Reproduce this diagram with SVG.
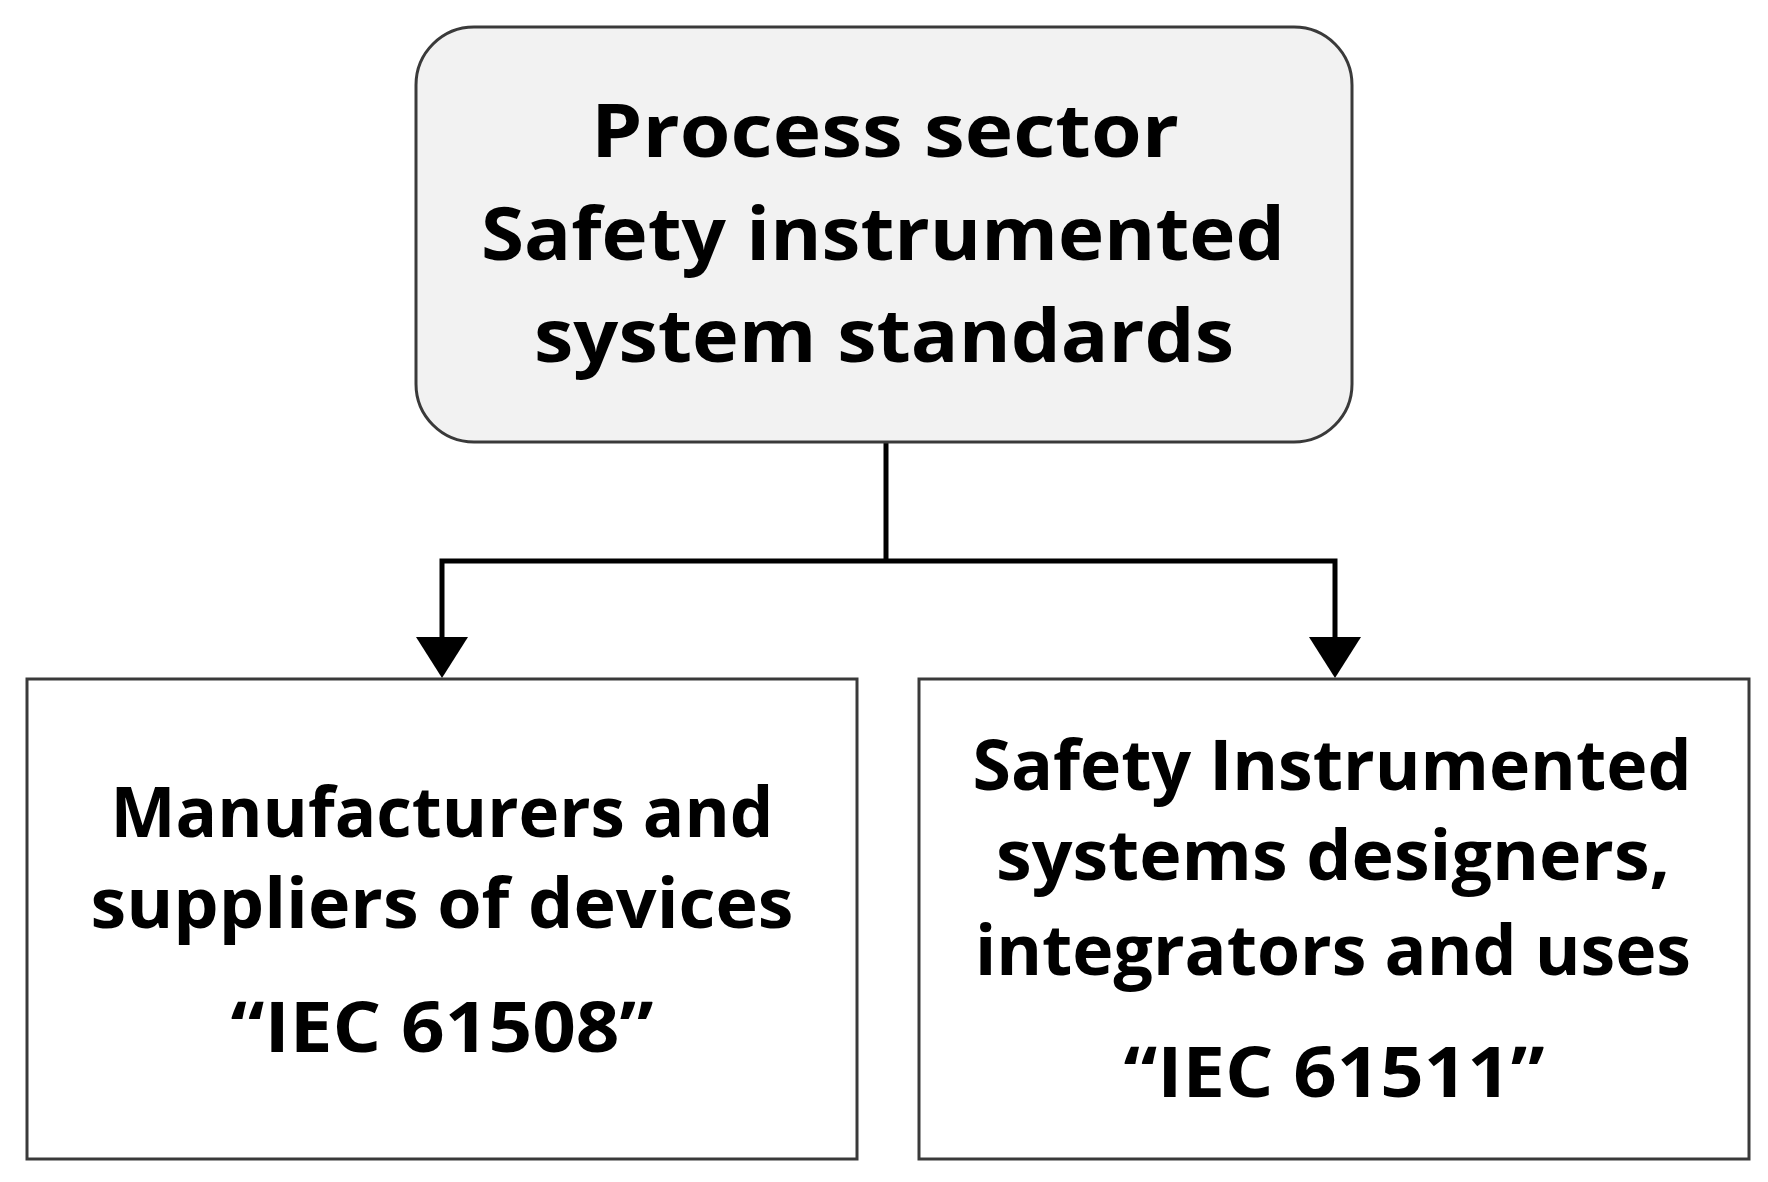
<svg xmlns="http://www.w3.org/2000/svg" width="1768" height="1182" viewBox="0 0 1768 1182">
  <style>
    .box { stroke: #3a3a3a; stroke-width: 3; }
    .t { font-family: "Open Sans", "Liberation Sans", sans-serif; font-weight: 700; fill: #000; text-anchor: middle; }
    .top { font-size: 74px; }
    .sub { font-size: 70px; }
    .conn { stroke: #000; stroke-width: 5; fill: none; }
  </style>
  <rect width="1768" height="1182" fill="#ffffff"/>
  <g id="connectors">
    <polyline class="conn" points="886,442 886,561"/>
    <polyline class="conn" points="442,638 442,561 1335,561 1335,638"/>
    <polygon points="416,637 468,637 442,678" fill="#000"/>
    <polygon points="1309,637 1361,637 1335,678" fill="#000"/>
  </g>
  <g id="node-top">
    <rect class="box" x="416" y="27" width="936" height="415" rx="58" ry="58" fill="#f2f2f2"/>
    <text class="t top" x="885" y="157" textLength="588" lengthAdjust="spacingAndGlyphs">Process sector</text>
    <text class="t top" x="883" y="260" textLength="804" lengthAdjust="spacingAndGlyphs">Safety instrumented</text>
    <text class="t top" x="884" y="362" textLength="700" lengthAdjust="spacingAndGlyphs">system standards</text>
  </g>
  <g id="node-left">
    <rect class="box" x="27" y="679" width="830" height="480" fill="#ffffff"/>
    <text class="t sub" x="442" y="837" textLength="663" lengthAdjust="spacingAndGlyphs">Manufacturers and</text>
    <text class="t sub" x="442" y="928" textLength="703" lengthAdjust="spacingAndGlyphs">suppliers of devices</text>
    <text class="t sub" x="442" y="1052" textLength="423" lengthAdjust="spacingAndGlyphs">“IEC 61508”</text>
  </g>
  <g id="node-right">
    <rect class="box" x="919" y="679" width="830" height="480" fill="#ffffff"/>
    <text class="t sub" x="1332" y="790" textLength="719" lengthAdjust="spacingAndGlyphs">Safety Instrumented</text>
    <text class="t sub" x="1333" y="880" textLength="674" lengthAdjust="spacingAndGlyphs">systems designers,</text>
    <text class="t sub" x="1333" y="975" textLength="716" lengthAdjust="spacingAndGlyphs">integrators and uses</text>
    <text class="t sub" x="1334" y="1097" textLength="421" lengthAdjust="spacingAndGlyphs">“IEC 61511”</text>
  </g>
</svg>
